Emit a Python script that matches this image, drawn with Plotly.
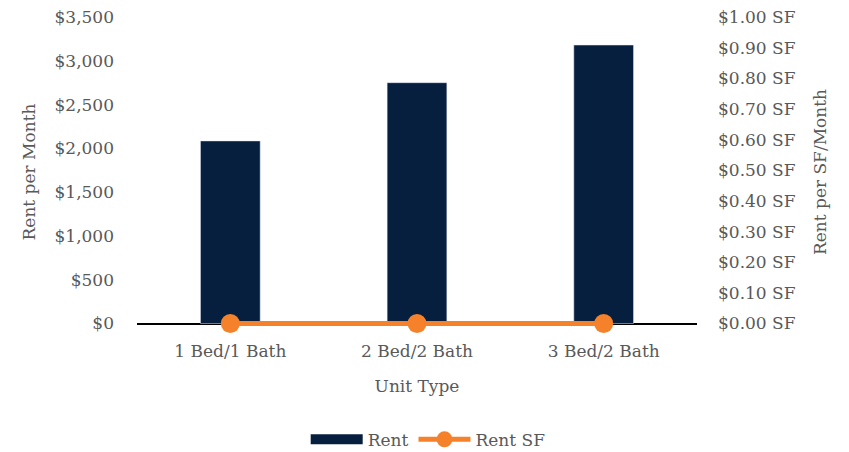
import plotly.graph_objects as go

# Unit mix data
unit_types = ["1 Bed/1 Bath", "2 Bed/2 Bath", "3 Bed/2 Bath"]
rent = [2085, 2750, 3180]
rent_sf = [0.0, 0.0, 0.0]

left_ticks = [0, 500, 1000, 1500, 2000, 2500, 3000, 3500]
left_labels = ["$0", "$500", "$1,000", "$1,500", "$2,000", "$2,500", "$3,000", "$3,500"]
right_ticks = [0.0, 0.1, 0.2, 0.3, 0.4, 0.5, 0.6, 0.7, 0.8, 0.9, 1.0]
right_labels = ["$%.2f SF" % v for v in right_ticks]

NAVY = "#061F3F"
ORANGE = "#F5822A"
TEXT = "#595959"
FONT = "DejaVu Serif"

# small padding below zero so the Rent SF line is not clipped at the baseline
PAD = 0.0113
left_range = [-3500 * PAD / (1 - PAD), 3500]
right_range = [-1.0 * PAD / (1 - PAD), 1.0]

fig = go.Figure()

fig.add_trace(go.Bar(
    x=unit_types, y=rent, name="Rent", marker_color=NAVY,
    showlegend=False, yaxis="y",
))
# legend swatch for the bar series (wide rectangle)
fig.add_trace(go.Scatter(
    x=[None], y=[None], name="Rent", mode="lines",
    line=dict(color=NAVY, width=13), yaxis="y",
))
fig.add_trace(go.Scatter(
    x=unit_types, y=rent_sf, name="Rent SF", mode="lines+markers",
    line=dict(color=ORANGE, width=5),
    marker=dict(color=ORANGE, size=19),
    yaxis="y2", cliponaxis=False,
))

fig.update_layout(
    width=849, height=452,
    margin=dict(l=137, r=152, t=17, b=124.5, autoexpand=False),
    paper_bgcolor="white", plot_bgcolor="white",
    font=dict(family=FONT, size=17, color=TEXT),
    bargap=0.68,
    xaxis=dict(
        showline=False, showgrid=False, ticks="", ticklabelstandoff=12,
        title=dict(text="Unit Type", standoff=20, font=dict(size=17)),
        tickfont=dict(size=17),
    ),
    yaxis=dict(
        range=left_range, tickvals=left_ticks, ticktext=left_labels,
        showgrid=False, showline=False,
        zeroline=True, zerolinecolor="black", zerolinewidth=2,
        ticks="", ticklabelstandoff=22,
        title=dict(text="Rent per Month", standoff=14, font=dict(size=17)),
        tickfont=dict(size=17),
    ),
    yaxis2=dict(
        range=right_range, tickvals=right_ticks, ticktext=right_labels,
        overlaying="y", side="right",
        showgrid=False, showline=False, zeroline=False, ticks="",
        ticklabelstandoff=20,
        title=dict(text="Rent per SF/Month", standoff=19, font=dict(size=17)),
        tickfont=dict(size=17),
    ),
    legend=dict(
        orientation="h", x=0.52, xanchor="center",
        yref="container", y=0.027, yanchor="middle",
        itemwidth=52, font=dict(size=17),
    ),
)

fig.write_html("out.html")
